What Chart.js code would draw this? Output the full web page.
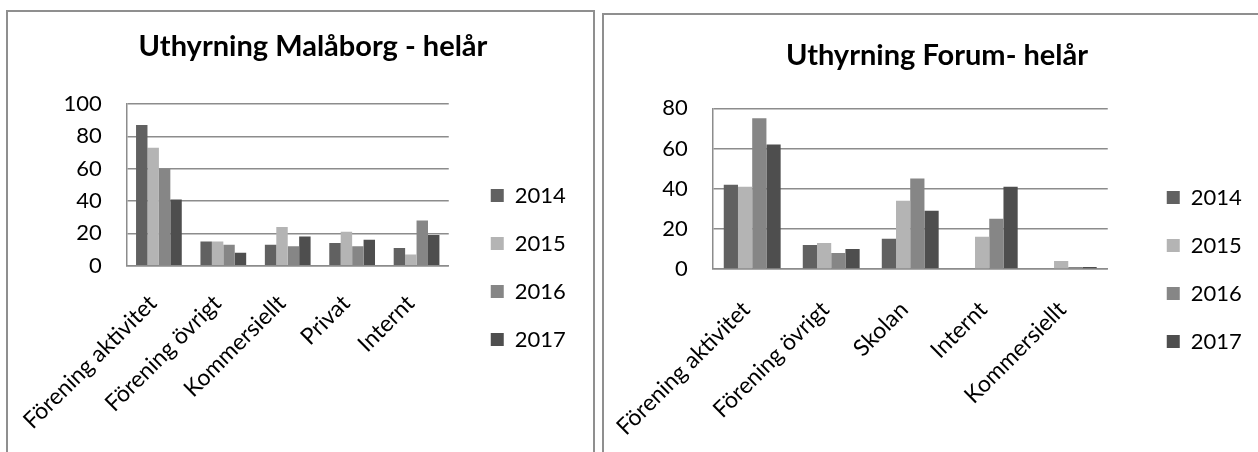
<!DOCTYPE html>
<html>
<head>
<meta charset="utf-8">
<script src="https://cdn.jsdelivr.net/npm/chart.js@4/dist/chart.umd.min.js"></script>
<style>
  html, body { margin: 0; padding: 0; background: #fff; width: 1258px; height: 452px; overflow: hidden; }
  .panel { position: absolute; border: 2px solid #8f8f8f; box-sizing: border-box; }
  canvas { position: absolute; }
</style>
</head>
<body>
<div class="panel" style="left:6px; top:10px; width:589px; height:600px;"></div>
<div class="panel" style="left:602px; top:13px; width:700px; height:600px;"></div>
<canvas id="c1" style="left:8px; top:12px;"></canvas>
<canvas id="c2" style="left:604px; top:15px;"></canvas>
<script>
// ---- data ----
const years = ['2014', '2015', '2016', '2017'];

const malaborgTitle = 'Uthyrning Malåborg - helår';
const malaborgCategories = ['Förening aktivitet', 'Förening övrigt', 'Kommersiellt', 'Privat', 'Internt'];
const malaborg2014 = [87, 15, 13, 14, 11];
const malaborg2015 = [73, 15, 24, 21, 7];
const malaborg2016 = [60, 13, 12, 12, 28];
const malaborg2017 = [41, 8, 18, 16, 19];
const malaborgTicks = [0, 20, 40, 60, 80, 100];

const forumTitle = 'Uthyrning Forum- helår';
const forumCategories = ['Förening aktivitet', 'Förening övrigt', 'Skolan', 'Internt', 'Kommersiellt'];
const forum2014 = [42, 12, 15, 0, 0];
const forum2015 = [41, 13, 34, 16, 4];
const forum2016 = [75, 8, 45, 25, 1];
const forum2017 = [62, 10, 29, 41, 1];
const forumTicks = [0, 20, 40, 60, 80];

// ---- styles ----
const seriesColors = ['#616161', '#b4b4b4', '#868686', '#4e4e4e'];
const gridColor = '#8c8c8c';
Chart.defaults.font.family = 'Lato, "Open Sans", sans-serif';
Chart.defaults.color = '#000';

function makeChart(id, cfg) {
  const cv = document.getElementById(id);
  cv.width = cfg.w; cv.height = cfg.h;
  cv.style.width = cfg.w + 'px'; cv.style.height = cfg.h + 'px';
  const seriesData = cfg.series;
  return new Chart(cv, {
    type: 'bar',
    data: {
      labels: cfg.categories,
      datasets: years.map((y, i) => ({
        label: y,
        data: seriesData[i],
        backgroundColor: seriesColors[i],
        borderWidth: 0,
        categoryPercentage: cfg.catPct,
        barPercentage: 1.0,
        yAxisID: 'y'
      }))
    },
    options: {
      responsive: false,
      animation: false,
      devicePixelRatio: 1,
      layout: { padding: { left: cfg.padL, right: cfg.padR, top: 0, bottom: 0 } },
      plugins: {
        title: {
          display: true,
          text: cfg.title,
          color: '#000',
          font: { size: 29, weight: 'bold', lineHeight: 1.2 },
          padding: { top: cfg.titleTop, bottom: cfg.titleBottom }
        },
        legend: {
          position: 'right',
          maxWidth: 200,
          labels: {
            boxWidth: 13, boxHeight: 13,
            padding: 26,
            color: '#000',
            font: { size: 22 }
          }
        },
        tooltip: { enabled: false }
      },
      scales: {
        x: {
          grid: { display: false, drawTicks: false },
          border: { display: true, color: gridColor, width: 1.5 },
          ticks: {
            autoSkip: false, minRotation: 45, maxRotation: 45,
            padding: cfg.xPad, labelOffset: -6,
            font: { size: 23 }, color: '#000'
          },
          afterFit: s => { s.height = cfg.xH; s.paddingLeft = 0; s.paddingRight = 0; }
        },
        y: {
          min: 0, max: cfg.ticks[cfg.ticks.length - 1],
          afterBuildTicks: s => { s.ticks = cfg.ticks.map(v => ({ value: v })); },
          grid: { color: gridColor, lineWidth: 1.5, drawTicks: false },
          border: { display: true, color: gridColor, width: 1.5 },
          ticks: { padding: 25, font: { size: 22 }, color: '#000' },
          afterFit: s => { s.width = cfg.yW; }
        },
        spacer: {
          position: 'right',
          display: true,
          grid: { display: false, drawTicks: false },
          border: { display: false },
          ticks: { display: false },
          afterFit: s => { s.width = cfg.spacer; }
        }
      }
    }
  });
}

makeChart('c1', {
  w: 585, h: 511,
  title: malaborgTitle,
  categories: malaborgCategories,
  series: [malaborg2014, malaborg2015, malaborg2016, malaborg2017],
  ticks: malaborgTicks,
  catPct: 0.71,
  padL: 42.2, padR: 17.2,
  titleTop: 17.6, titleBottom: 39.6,
  yW: 76.5, xH: 257.3, xPad: 24, spacer: 16
});

makeChart('c2', {
  w: 654, h: 509,
  title: forumTitle,
  categories: forumCategories,
  series: [forum2014, forum2015, forum2016, forum2017],
  ticks: forumTicks,
  catPct: 0.72,
  padL: 18.2, padR: 6.2,
  titleTop: 23.1, titleBottom: 35.4,
  yW: 90.5, xH: 255, xPad: 27, spacer: 33
});
</script>
</body>
</html>
